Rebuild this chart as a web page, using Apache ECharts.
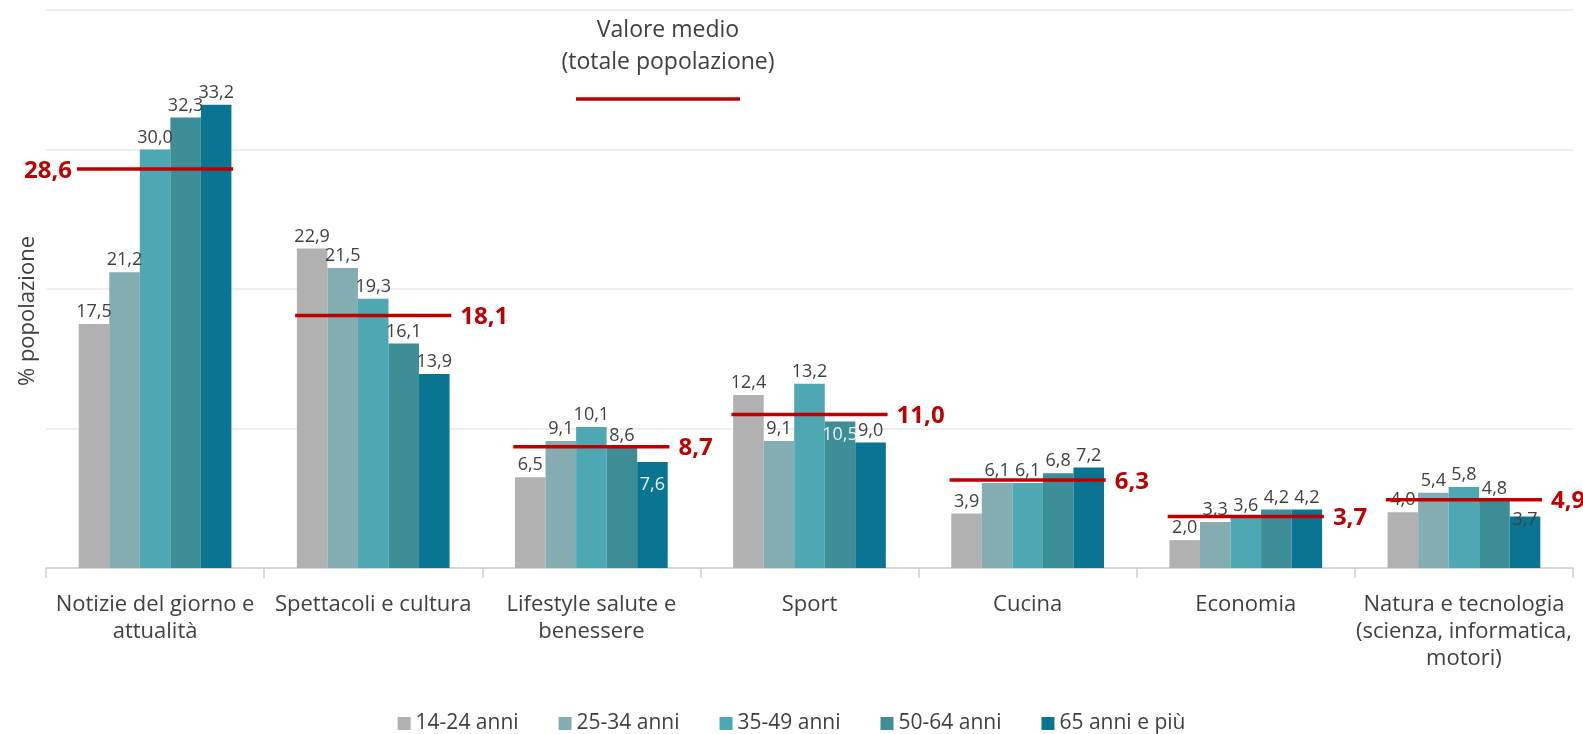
<!DOCTYPE html>
<html>
<head>
<meta charset="utf-8">
<script src="https://cdn.jsdelivr.net/npm/echarts@6/dist/echarts.min.js"></script>
<style>
html,body{margin:0;padding:0;background:#fff;}
#chart{width:1583px;height:734px;}
</style>
</head>
<body>
<div id="chart"></div>
<script>
const categories = [
  "Notizie del giorno e\nattualità",
  "Spettacoli e cultura",
  "Lifestyle salute e\nbenessere",
  "Sport",
  "Cucina",
  "Economia",
  "Natura e tecnologia\n(scienza, informatica,\nmotori)"
];
const seriesNames = ["14-24 anni", "25-34 anni", "35-49 anni", "50-64 anni", "65 anni e più"];
const age14_24 = [17.5, 22.9, 6.5, 12.4, 3.9, 2.0, 4.0];
const age25_34 = [21.2, 21.5, 9.1, 9.1, 6.1, 3.3, 5.4];
const age35_49 = [30.0, 19.3, 10.1, 13.2, 6.1, 3.6, 5.8];
const age50_64 = [32.3, 16.1, 8.6, 10.5, 6.8, 4.2, 4.8];
const age65plus = [33.2, 13.9, 7.6, 9.0, 7.2, 4.2, 3.7];
const meanValues = [28.6, 18.1, 8.7, 11.0, 6.3, 3.7, 4.9];
const yTicks = [0, 10, 20, 30, 40];

const colors = ["#b1b1b1", "#84adb1", "#4ea8b3", "#3d8e97", "#0a7592"];
const fmt = v => v.toFixed(1).replace('.', ',');
const FONT = '"Open Sans"';

const chart = echarts.init(document.getElementById('chart'), null, {renderer: 'canvas'});

const allSeries = [age14_24, age25_34, age35_49, age50_64, age65plus];
// labels placed inside the bar (as in the reference)
const insideLight = {"3-3": 4, "4-2": 14};
const insideDark = {"4-6": true};

const barSeries = allSeries.map((arr, si) => ({
  name: seriesNames[si],
  type: 'bar',
  barGap: '0%',
  barCategoryGap: '30%',
  itemStyle: {color: colors[si]},
  data: arr.map((v, ci) => {
    const key = si + '-' + ci;
    const d = {value: v};
    if (insideLight[key] !== undefined) d.label = {position: 'insideTop', color: '#e8f2f4', distance: insideLight[key]};
    if (insideDark[key]) d.label = {position: 'insideTop', color: '#404040', distance: -6};
    return d;
  }),
  label: {
    show: true, position: 'top', distance: 3,
    color: '#404040', fontSize: 18, fontFamily: FONT,
    formatter: p => fmt(p.value)
  }
}));

const meanSeries = {
  name: 'Valore medio',
  type: 'custom',
  z: 10,
  encode: {x: 0, y: 1},
  data: meanValues.map((v, i) => [i, v]),
  renderItem: function (params, api) {
    const idx = api.value(0);
    const pt = api.coord([idx, api.value(1)]);
    const cw = api.size([1, 0])[0];
    const half = cw * 0.358;
    const leftLabel = idx === 0;
    return {
      type: 'group',
      children: [
        {type: 'line', shape: {x1: pt[0] - half, y1: pt[1], x2: pt[0] + half, y2: pt[1]},
         style: {stroke: '#c00000', lineWidth: 3.5}},
        {type: 'text',
         style: {
           text: fmt(api.value(1)),
           x: leftLabel ? pt[0] - half - 5 : pt[0] + half + 9,
           y: pt[1] + 2,
           align: leftLabel ? 'right' : 'left',
           verticalAlign: 'middle',
           fill: '#c00000',
           font: 'bold 24px ' + FONT
         }}
      ]
    };
  }
};

chart.setOption({
  animation: false,
  backgroundColor: '#ffffff',
  grid: {left: 46, right: 10, top: 10, bottom: 166},
  legend: {
    data: seriesNames,
    top: 708,
    left: 'center',
    itemWidth: 13, itemHeight: 13, itemGap: 40, 
    icon: 'rect',
    textStyle: {color: '#404040', fontSize: 21, fontFamily: FONT}
  },
  xAxis: {
    type: 'category',
    data: categories,
    axisLine: {lineStyle: {color: '#d0d0d0', width: 1.5}},
    axisTick: {show: true, alignWithLabel: false, length: 10, lineStyle: {color: '#d0d0d0', width: 1.5}},
    axisLabel: {interval: 0, color: '#404040', fontSize: 22, fontFamily: FONT, lineHeight: 27, margin: 23}
  },
  yAxis: {
    type: 'value',
    min: yTicks[0], max: yTicks[yTicks.length - 1], interval: 10,
    axisLabel: {show: false},
    axisLine: {show: false},
    axisTick: {show: false},
    splitLine: {lineStyle: {color: '#e8e8e8', width: 1.5}},
    name: '% popolazione',
    nameLocation: 'middle',
    nameRotate: 90,
    nameGap: 7,
    nameTextStyle: {color: '#404040', fontSize: 22, fontFamily: FONT, padding: [0, 44, 0, 0]}
  },
  graphic: [
    {type: 'text', style: {text: 'Valore medio', fill: '#404040', font: '23px ' + FONT, align: 'center'}, x: 668, y: 19},
    {type: 'text', style: {text: '(totale popolazione)', fill: '#404040', font: '23px ' + FONT, align: 'center'}, x: 668, y: 51},
    {type: 'line', shape: {x1: 576, y1: 99, x2: 740, y2: 99}, style: {stroke: '#c00000', lineWidth: 3.5}}
  ],
  series: [...barSeries, meanSeries]
});
</script>
</body>
</html>
